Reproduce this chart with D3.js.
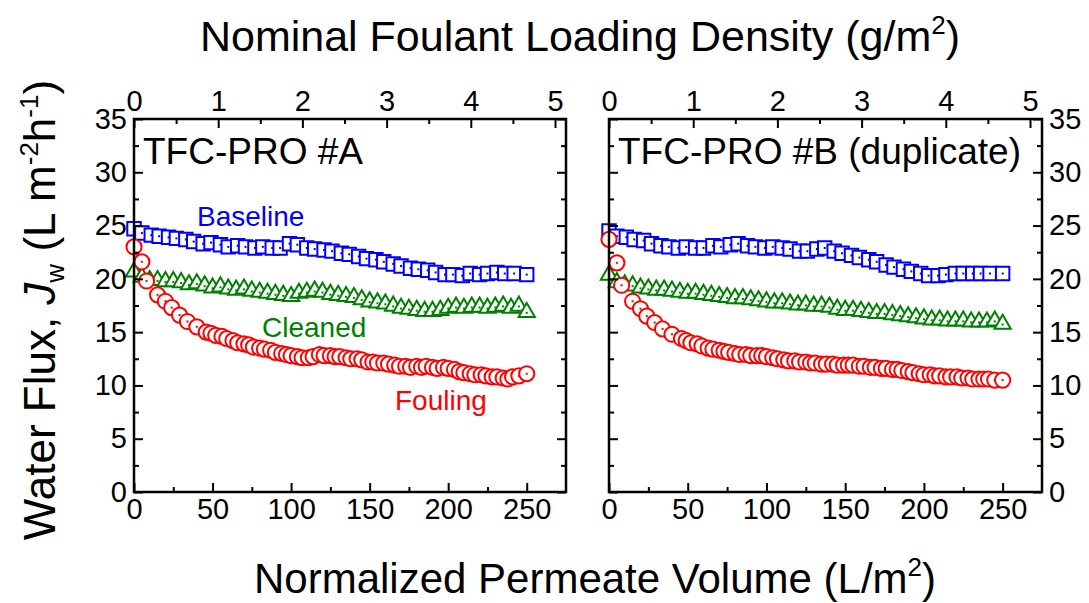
<!DOCTYPE html>
<html><head><meta charset="utf-8">
<script src="https://cdn.jsdelivr.net/npm/d3@7"></script>
<style>
html,body{margin:0;padding:0;background:#fff;}
svg text{font-family:"Liberation Sans",Arial,sans-serif;}
</style></head>
<body>
<svg id="chart" width="1089" height="603"></svg>
<script>
// ---------- data ----------
const panelLabels = ["TFC-PRO #A", "TFC-PRO #B (duplicate)"];
const seriesNames = ["Baseline", "Cleaned", "Fouling"];
const bottomTicks = [0, 50, 100, 150, 200, 250];
const topTicks = [0, 1, 2, 3, 4, 5];
const yTicks = [0, 5, 10, 15, 20, 25, 30, 35];

const baselineX = [0,5,11,16,22,27,33,38,44,49,55,60,66,71,77,82,88,93,99,104,110,115,121,126,132,137,143,148,154,159,165,170,176,181,187,192,198,203,209,214,220,225,231,236,242,250];
const cleanedX = [0,5,10,15,20,25,30,35,40,45,50,55,60,65,70,75,80,85,90,95,100,105,110,115,120,125,130,135,140,145,150,155,160,165,170,175,180,185,190,195,200,205,210,215,220,225,230,235,240,245,250];
const foulingX = [0,5,8,15,20,24,29,34,40,46,49,52,56,59,63,66,70,73,76,80,83,87,90,94,97,100,104,107,111,114,118,121,125,128,131,135,138,142,145,149,152,155,159,162,166,169,173,176,180,183,186,190,193,197,200,204,207,210,214,217,221,224,228,231,235,238,241,245,250];

const baselineA = [24.7,24.3,24.1,24.0,23.9,23.8,23.7,23.5,23.3,23.4,23.2,23.0,23.1,23.0,22.9,23.0,22.9,22.9,23.3,23.2,22.9,22.8,22.7,22.6,22.4,22.3,22.1,21.9,21.8,21.6,21.4,21.2,21.0,20.9,20.8,20.6,20.4,20.4,20.3,20.5,20.4,20.5,20.6,20.5,20.5,20.4];
const cleanedA = [20.8,20.3,20.0,20.0,19.9,19.9,19.8,19.6,19.7,19.5,19.3,19.4,19.2,19.1,19.2,19.0,18.9,18.8,18.7,18.6,18.5,18.8,18.9,19.0,18.9,18.7,18.6,18.5,18.4,18.2,18.0,17.9,17.8,17.6,17.4,17.3,17.2,17.1,17.1,17.2,17.4,17.5,17.4,17.5,17.5,17.4,17.5,17.6,17.4,17.6,17.0];
const foulingA = [23.0,21.6,19.8,18.5,17.9,17.3,16.6,16.0,15.5,15.0,14.9,14.7,14.6,14.4,14.2,14.0,13.9,13.8,13.6,13.5,13.4,13.3,13.1,13.0,12.9,12.8,12.7,12.6,12.6,12.7,12.9,12.8,12.8,12.7,12.7,12.6,12.5,12.5,12.4,12.2,12.2,12.1,12.1,12.0,11.9,11.8,11.8,11.7,11.8,11.7,11.8,11.7,11.6,11.7,11.6,11.5,11.3,11.2,11.1,11.0,11.0,10.9,10.8,10.8,10.7,10.6,10.8,10.9,11.1];

const baselineB = [24.5,24.0,23.9,23.7,23.6,23.3,23.1,23.0,22.9,23.0,22.9,22.9,23.1,23.0,23.2,23.3,23.1,23.0,22.9,23.0,22.9,22.8,22.6,22.6,22.8,22.9,22.6,22.4,22.2,22.0,21.8,21.6,21.3,21.1,20.9,20.7,20.5,20.3,20.3,20.4,20.5,20.5,20.5,20.5,20.5,20.5];
const cleanedB = [20.5,19.8,19.6,19.5,19.3,19.2,19.1,19.1,19.0,18.9,18.8,18.8,18.7,18.6,18.5,18.4,18.3,18.3,18.2,18.1,18.0,17.9,17.9,17.8,17.7,17.7,17.6,17.6,17.5,17.3,17.2,17.2,17.1,17.0,16.9,16.9,16.8,16.7,16.6,16.5,16.4,16.3,16.3,16.2,16.2,16.2,16.1,16.1,16.1,16.2,15.9];
const foulingB = [23.7,21.5,19.4,17.9,17.2,16.5,15.9,15.3,14.8,14.4,14.2,14.0,13.9,13.7,13.5,13.4,13.3,13.2,13.1,13.0,12.9,12.9,12.8,12.8,12.8,12.7,12.6,12.5,12.4,12.3,12.3,12.2,12.2,12.1,12.1,12.0,12.0,12.0,11.9,11.9,11.9,11.9,11.8,11.8,11.7,11.7,11.6,11.6,11.5,11.5,11.4,11.3,11.2,11.1,11.0,11.0,10.9,10.9,10.8,10.8,10.8,10.7,10.7,10.6,10.6,10.6,10.6,10.5,10.5];

const colors = {Baseline:"#0000ff", Cleaned:"#008000", Fouling:"#ff0000"};

// ---------- layout ----------
const svg = d3.select("#chart");
const yTop = 119, yBot = 492;
const panels = [
  {x0:134, x1:566, label:panelLabels[0], side:"left",
   series:[["Baseline",baselineX,baselineA],["Cleaned",cleanedX,cleanedA],["Fouling",foulingX,foulingA]]},
  {x0:609, x1:1042, label:panelLabels[1], side:"right",
   series:[["Baseline",baselineX,baselineB],["Cleaned",cleanedX,cleanedB],["Fouling",foulingX,foulingB]]}
];
const y = d3.scaleLinear().domain([0,35]).range([yBot, yTop]);

const sym = {
  Baseline: d3.symbol().type(d3.symbolSquare).size(180),
  Cleaned: d3.symbol().type(d3.symbolTriangle).size(115),
  Fouling: d3.symbol().type(d3.symbolCircle).size(180)
};

panels.forEach((p, pi) => {
  const x = d3.scaleLinear().domain([0,275]).range([p.x0, p.x1]);
  const xt = d3.scaleLinear().domain([0, 5*(p.x1-p.x0)/421]).range([p.x0, p.x1]);
  const g = svg.append("g");

  // data
  p.series.forEach(([name, xs, ys]) => {
    const pts = xs.map((v,i)=>({x:v, y:ys[i]}));
    const sg = g.append("g");
    pts.forEach(d => {
      const m = sg.append("g").attr("transform", `translate(${x(d.x)},${y(d.y) + (name==="Cleaned"?1.5:0)})`);
      m.append("path").attr("d", sym[name]()).attr("fill","#fff")
        .attr("stroke", colors[name]).attr("stroke-width", 2);
      m.append("rect").attr("x",-1).attr("y", name==="Cleaned"?-0.5:-1).attr("width",2).attr("height",2).attr("fill", colors[name]);
    });
  });

  // axes
  const fs = 29;
  const yMinor = d3.range(2.5, 35, 5);
  g.append("g").attr("transform", `translate(${p.x0},0)`)
    .call(d3.axisLeft(y).tickValues(yTicks).tickSize(-9).tickPadding(7).tickFormat(p.side==="left"?d3.format("d"):""));
  g.append("g").attr("transform", `translate(${p.x0},0)`)
    .call(d3.axisLeft(y).tickValues(yMinor).tickSize(-5).tickFormat(""));
  g.append("g").attr("transform", `translate(${p.x1},0)`)
    .call(d3.axisRight(y).tickValues(yTicks).tickSize(-9).tickPadding(7).tickFormat(p.side==="right"?d3.format("d"):""));
  g.append("g").attr("transform", `translate(${p.x1},0)`)
    .call(d3.axisRight(y).tickValues(yMinor).tickSize(-5).tickFormat(""));
  g.append("g").attr("transform", `translate(0,${yBot})`)
    .call(d3.axisBottom(x).tickValues(bottomTicks).tickSize(-9).tickPadding(6).tickFormat(d3.format("d")));
  g.append("g").attr("transform", `translate(0,${yBot})`)
    .call(d3.axisBottom(x).tickValues([25,75,125,175,225]).tickSize(-5).tickFormat(""));
  g.append("g").attr("transform", `translate(0,${yTop})`)
    .call(d3.axisTop(xt).tickValues(topTicks).tickSize(-9).tickPadding(8).tickFormat(d3.format("d")));
  g.append("g").attr("transform", `translate(0,${yTop})`)
    .call(d3.axisTop(xt).tickValues([0.5,1.5,2.5,3.5,4.5]).tickSize(-5).tickFormat(""));

  g.selectAll(".domain").remove();
  g.selectAll(".tick line").attr("stroke","#000").attr("stroke-width",2);
  g.selectAll(".tick text").attr("font-size", fs).attr("fill","#000")
    .attr("font-family","'Liberation Sans', Arial, sans-serif");

  g.append("rect").attr("x",p.x0).attr("y",yTop).attr("width",p.x1-p.x0).attr("height",yBot-yTop)
    .attr("fill","none").attr("stroke","#000").attr("stroke-width",2.5);

  g.append("text").attr("x", p.x0+9).attr("y", 164).attr("font-size",37).text(p.label);
});

// series labels (left panel)
svg.append("text").attr("x",197).attr("y",226).attr("font-size",28).attr("fill",colors.Baseline).text(seriesNames[0]);
svg.append("text").attr("x",262).attr("y",337).attr("font-size",28).attr("fill",colors.Cleaned).text(seriesNames[1]);
svg.append("text").attr("x",395).attr("y",410).attr("font-size",28).attr("fill",colors.Fouling).text(seriesNames[2]);

// axis titles
const tTop = svg.append("text").attr("x",580).attr("y",51).attr("text-anchor","middle").attr("font-size",43);
tTop.append("tspan").text("Nominal Foulant Loading Density (g/m");
tTop.append("tspan").attr("font-size",26).attr("dy",-17).text("2");
tTop.append("tspan").attr("dy",17).text(")");

const tBot = svg.append("text").attr("x",595).attr("y",593).attr("text-anchor","middle").attr("font-size",42);
tBot.append("tspan").text("Normalized Permeate Volume (L/m");
tBot.append("tspan").attr("font-size",26).attr("dy",-17).text("2");
tBot.append("tspan").attr("dy",17).text(")");

const tY = svg.append("text").attr("transform","translate(55,310) rotate(-90)").attr("text-anchor","middle").attr("font-size",44);
tY.append("tspan").text("Water Flux, ");
tY.append("tspan").attr("font-style","italic").text("J");
tY.append("tspan").attr("font-size",26).attr("dy",9).text("w");
tY.append("tspan").attr("dy",-9).text(" (L m");
tY.append("tspan").attr("font-size",26).attr("dy",-17).text("-2");
tY.append("tspan").attr("dy",17).text("h");
tY.append("tspan").attr("font-size",26).attr("dy",-17).text("-1");
tY.append("tspan").attr("dy",17).text(")");
</script>
</body></html>
